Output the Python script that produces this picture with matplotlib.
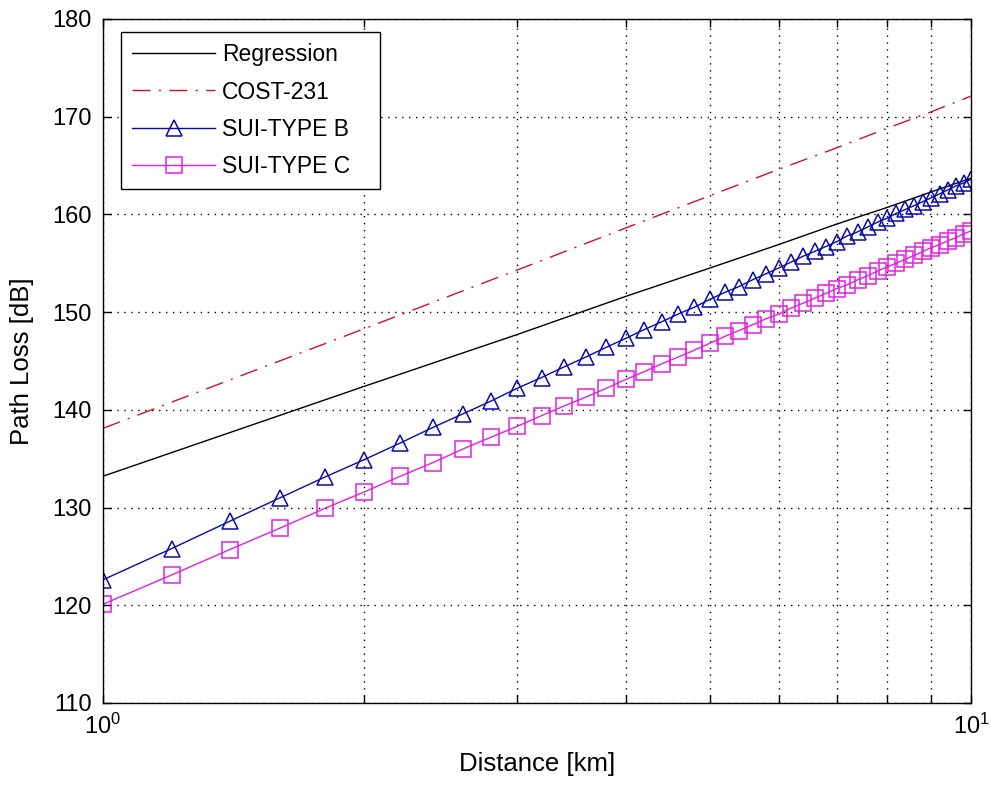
import matplotlib
matplotlib.use("Agg")
import matplotlib.pyplot as plt
from matplotlib.ticker import LogLocator, NullFormatter

# distances (km) used by the SUI curves (markers every 0.2 km)
dist_sui = [1.0, 1.2, 1.4, 1.6, 1.8, 2.0, 2.2, 2.4, 2.6, 2.8, 3.0, 3.2, 3.4, 3.6, 3.8,
            4.0, 4.2, 4.4, 4.6, 4.8, 5.0, 5.2, 5.4, 5.6, 5.8, 6.0, 6.2, 6.4, 6.6, 6.8,
            7.0, 7.2, 7.4, 7.6, 7.8, 8.0, 8.2, 8.4, 8.6, 8.8, 9.0, 9.2, 9.4, 9.6, 9.8, 10.0]
sui_b = [122.6, 125.8, 128.6, 131.0, 133.1, 134.9, 136.6, 138.2, 139.6, 140.9, 142.2,
         143.3, 144.4, 145.4, 146.4, 147.3, 148.2, 149.0, 149.8, 150.5, 151.3, 152.0,
         152.6, 153.3, 153.9, 154.5, 155.1, 155.7, 156.2, 156.7, 157.2, 157.8, 158.2,
         158.7, 159.2, 159.6, 160.1, 160.5, 160.9, 161.3, 161.7, 162.1, 162.5, 162.9,
         163.2, 163.6]
sui_c = [120.1, 123.1, 125.7, 127.9, 129.9, 131.6, 133.2, 134.6, 136.0, 137.2, 138.3,
         139.4, 140.4, 141.3, 142.2, 143.1, 143.9, 144.7, 145.4, 146.1, 146.8, 147.5,
         148.1, 148.7, 149.3, 149.8, 150.4, 150.9, 151.4, 151.9, 152.4, 152.8, 153.3,
         153.7, 154.2, 154.6, 155.0, 155.4, 155.8, 156.2, 156.6, 156.9, 157.3, 157.6,
         158.0, 158.3]

# regression and COST-231 curves, read at whole km
dist_km = [1, 2, 3, 4, 5, 6, 7, 8, 9, 10]
regression = [133.2, 142.4, 147.7, 151.6, 154.5, 156.9, 159.0, 160.7, 162.3, 163.7]
cost231 = [138.1, 148.3, 154.3, 158.6, 161.9, 164.6, 166.8, 168.8, 170.5, 172.1]

plt.rcParams["font.family"] = ["Liberation Sans", "DejaVu Sans"]
plt.rcParams["mathtext.default"] = "regular"

fig = plt.figure(figsize=(9.9, 7.85), dpi=100)
ax = fig.add_axes([0.104, 0.1045, 0.877, 0.8715])

ax.plot(dist_km, regression, "-", color="black", lw=1.0, label="Regression")
ax.plot(dist_km, cost231, color="#d01030", lw=1.0, dashes=(13, 6, 1.5, 6), label="COST-231")
ax.plot(dist_sui, sui_b, "-^", color="#0a0aa8", lw=1.0, ms=12, mfc="none", mew=1.1,
        label="SUI-TYPE B")
ax.plot(dist_sui, sui_c, "-s", color="#e020e0", lw=1.0, ms=11, mfc="none", mew=1.1,
        label="SUI-TYPE C")

ax.set_xscale("log")
ax.set_xlim(1, 10)
ax.set_ylim(110, 180)
ax.set_yticks(range(110, 181, 10))
ax.xaxis.set_minor_locator(LogLocator(base=10, subs=range(2, 10)))
ax.xaxis.set_minor_formatter(NullFormatter())

grid_kw = dict(color="black", lw=1.0, linestyle=(0, (1, 4)))
ax.grid(True, which="major", axis="both", **grid_kw)
ax.grid(True, which="minor", axis="x", **grid_kw)

ax.tick_params(which="both", direction="in", top=True, right=True, width=1.0)
ax.tick_params(which="major", length=6, labelsize=17)
ax.tick_params(which="minor", length=6)
ax.tick_params(axis="y", pad=8)
ax.tick_params(axis="x", pad=8)
for s in ax.spines.values():
    s.set_linewidth(1.0)

ax.set_xlabel("Distance [km]", fontsize=18.5, labelpad=9)
ax.set_ylabel("Path Loss [dB]", fontsize=18.5, labelpad=13)

leg = ax.legend(loc="upper left", bbox_to_anchor=(0.0207, 0.5, 0.2984, 0.481),
                mode="expand", borderaxespad=0, fancybox=False, framealpha=1,
                edgecolor="black", fontsize=16.5, handlelength=3.6,
                handletextpad=0.3, labelspacing=0.62, borderpad=0.5)
leg.get_frame().set_linewidth(1.0)

fig.savefig("out.png", dpi=100)
